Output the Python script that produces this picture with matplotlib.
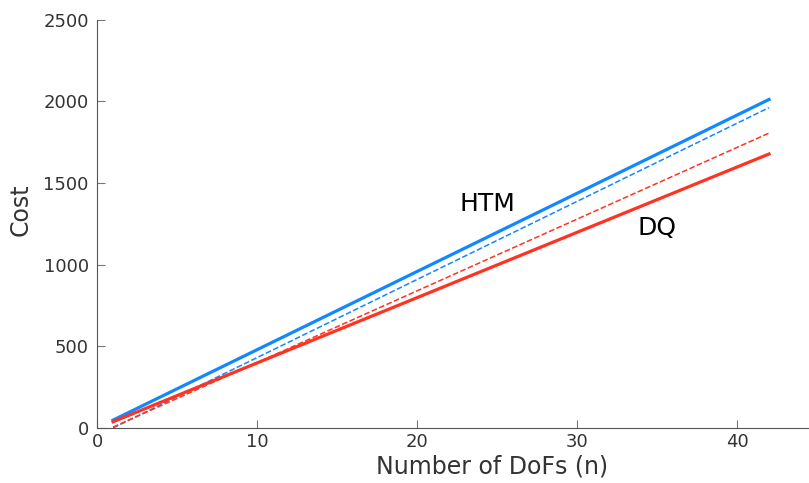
import matplotlib
matplotlib.use("Agg")
import matplotlib.pyplot as plt

# values, at n = 1 and n = 42
n = [1, 42]
htm = [48, 2012]
htm_dashed = [0, 1962]
dq = [38, 1678]
dq_dashed = [5, 1806]

blue = "#1188ff"
red = "#ff3322"
grey = "#333333"

fig = plt.figure(figsize=(8.09, 4.83), dpi=100)
ax = fig.add_axes([0.12, 0.114, 0.88, 0.845])

ax.plot(n, htm, color=blue, lw=2.3)
ax.plot(n, htm_dashed, color=blue, lw=1.1, ls="--")
ax.plot(n, dq, color=red, lw=2.3)
ax.plot(n, dq_dashed, color=red, lw=1.1, ls="--")

ax.text(24.4, 1370, "HTM", fontsize=18, ha="center", va="center")
ax.text(35.0, 1225, "DQ", fontsize=18, ha="center", va="center")

ax.set_xlim(0, 44.5)
ax.set_ylim(0, 2500)
ax.set_xticks([0, 10, 20, 30, 40])
ax.set_yticks([0, 500, 1000, 1500, 2000, 2500])
ax.spines["top"].set_visible(False)
ax.spines["right"].set_visible(False)
for s in ("left", "bottom"):
    ax.spines[s].set_color("#555555")
ax.tick_params(direction="in", length=6, colors="#777777", labelcolor=grey,
               labelsize=13)
ax.tick_params(axis="y", pad=6)
ax.tick_params(axis="x", pad=4)
ax.set_xlabel("Number of DoFs (n)", fontsize=17, color=grey)
ax.set_ylabel("Cost", fontsize=17, color=grey)
# labels sit off-centre in the reference
ax.xaxis.set_label_coords(0.555, -0.064)
ax.yaxis.set_label_coords(-0.09, 0.534)

fig.savefig("out.png", dpi=100)
